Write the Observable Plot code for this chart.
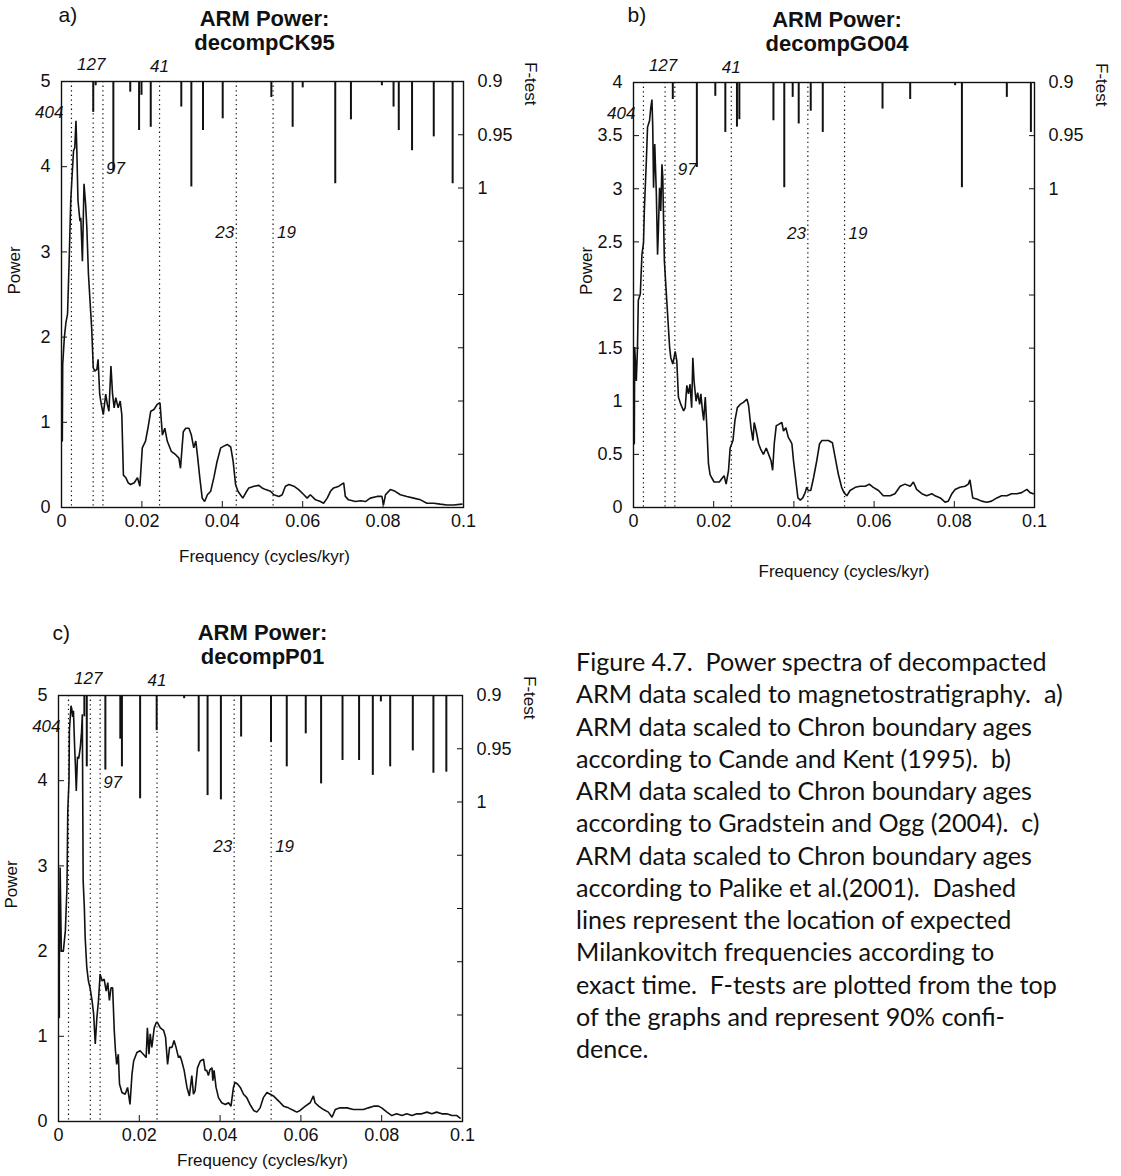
<!DOCTYPE html>
<html><head><meta charset="utf-8">
<script src="https://cdn.jsdelivr.net/npm/d3@7"></script>
<script src="https://cdn.jsdelivr.net/npm/@observablehq/plot@0.6"></script>
<style>
body{margin:0;background:#fff;}
#page{position:relative;width:1121px;height:1176px;overflow:hidden;background:#fff;}
.panel{position:absolute;}
.panel svg{overflow:visible;}
#caption{position:absolute;left:576px;top:645px;font-family:Lato,"Noto Sans",sans-serif;font-size:22px;line-height:32.25px;white-space:pre;color:#111;}
</style></head><body><div id="page"></div>
<script>
// Milankovitch periods (kyr); dotted lines at 1/period
const periods = [404, 127, 97, 41, 23, 19];
const xTicks = [0, 0.02, 0.04, 0.06, 0.08, 0.1];
const fTicks = [0.9, 0.95, 1, 1.05, 1.1, 1.15, 1.2, 1.25, 1.3];
const fDomain = [0.9, 1.3];

// Panel a: decompCK95 power spectrum [frequency, power]
const spectrumCK95 = [
[0.0002,0.78],[0.0003,1.68],[0.0007,1.99],[0.0011,2.17],[0.0015,2.27],[0.0019,2.89],[0.0023,3.60],[0.0027,3.95],
[0.0030,4.19],[0.0033,4.22],[0.0036,4.54],[0.0038,4.22],[0.0041,3.60],[0.0046,3.36],[0.0048,3.40],[0.0052,2.89],
[0.0056,3.80],[0.0060,3.56],[0.0063,3.29],[0.0067,2.74],[0.0071,2.42],[0.0075,2.11],[0.0079,1.64],[0.0083,1.60],
[0.0088,1.62],[0.0091,1.74],[0.0095,1.33],[0.0099,1.21],[0.0104,1.09],[0.0110,1.33],[0.0114,1.21],[0.0118,1.13],
[0.0123,1.66],[0.0127,1.33],[0.0131,1.17],[0.0135,1.29],[0.0141,1.17],[0.0146,1.25],[0.0150,1.09],[0.0154,0.38],
[0.0160,0.35],[0.0166,0.29],[0.0172,0.27],[0.0181,0.29],[0.0189,0.35],[0.0195,0.25],[0.0201,0.70],[0.0209,0.78],
[0.0215,0.93],[0.0222,1.13],[0.0230,1.15],[0.0238,1.21],[0.0245,1.23],[0.0251,0.85],[0.0257,0.93],[0.0263,0.78],
[0.0273,0.66],[0.0284,0.62],[0.0292,0.58],[0.0296,0.46],[0.0303,0.89],[0.0309,0.93],[0.0317,0.93],[0.0323,0.85],
[0.0329,0.70],[0.0334,0.78],[0.0338,0.62],[0.0344,0.35],[0.0350,0.11],[0.0356,0.07],[0.0363,0.15],[0.0371,0.19],
[0.0379,0.35],[0.0387,0.54],[0.0396,0.70],[0.0404,0.72],[0.0412,0.74],[0.0421,0.71],[0.0427,0.54],[0.0433,0.27],
[0.0439,0.19],[0.0445,0.15],[0.0451,0.11],[0.0458,0.17],[0.0466,0.23],[0.0479,0.25],[0.0491,0.26],[0.0499,0.23],
[0.0508,0.21],[0.0520,0.19],[0.0528,0.15],[0.0541,0.13],[0.0549,0.15],[0.0557,0.25],[0.0566,0.27],[0.0578,0.25],
[0.0590,0.21],[0.0603,0.15],[0.0611,0.11],[0.0619,0.15],[0.0632,0.09],[0.0644,0.07],[0.0652,0.05],[0.0661,0.11],
[0.0669,0.19],[0.0677,0.23],[0.0690,0.25],[0.0702,0.29],[0.0706,0.13],[0.0714,0.09],[0.0731,0.07],[0.0744,0.08],
[0.0756,0.07],[0.0768,0.11],[0.0785,0.13],[0.0797,0.13],[0.0801,0.03],[0.0806,0.15],[0.0818,0.21],[0.0830,0.19],
[0.0843,0.15],[0.0859,0.13],[0.0876,0.11],[0.0893,0.09],[0.0909,0.05],[0.0926,0.05],[0.0942,0.04],[0.0959,0.03],
[0.0975,0.03],[0.0996,0.04]
];
// Panel a: F-test [frequency, F]
const ftestCK95 = [
[0.0079,0.929],[0.0085,0.904],[0.0129,0.985],[0.0171,0.910],[0.0193,0.946],[0.0199,0.913],[0.0222,0.943],
[0.0298,0.924],[0.0323,0.999],[0.0352,0.946],[0.0401,0.935],[0.0522,0.915],[0.0575,0.943],[0.0600,0.906],
[0.0681,0.996],[0.0720,0.936],[0.0797,0.904],[0.0826,0.924],[0.0839,0.946],[0.0872,0.965],[0.0926,0.952],
[0.0973,0.996]
];

// Panel b: decompGO04
const spectrumGO04 = [
[0.0002,0.60],[0.0003,1.51],[0.0007,1.19],[0.0010,1.51],[0.0012,1.95],[0.0017,2.01],[0.0021,2.38],[0.0025,2.49],
[0.0027,2.79],[0.0032,3.26],[0.0035,3.58],[0.0040,3.64],[0.0043,3.76],[0.0046,3.84],[0.0048,3.58],[0.0050,3.01],
[0.0053,3.42],[0.0057,2.95],[0.0060,2.38],[0.0062,2.60],[0.0065,3.01],[0.0068,2.79],[0.0071,3.23],[0.0073,3.11],
[0.0075,2.70],[0.0077,2.32],[0.0081,2.07],[0.0085,1.82],[0.0090,1.51],[0.0093,1.41],[0.0098,1.35],[0.0104,1.47],
[0.0108,1.38],[0.0112,1.04],[0.0118,0.97],[0.0125,0.91],[0.0129,0.94],[0.0133,1.15],[0.0137,1.07],[0.0141,1.16],
[0.0145,0.94],[0.0148,1.41],[0.0151,1.19],[0.0156,1.00],[0.0160,1.08],[0.0165,0.97],[0.0168,1.07],[0.0172,0.91],
[0.0175,0.82],[0.0179,1.04],[0.0183,0.75],[0.0187,0.41],[0.0191,0.31],[0.0195,0.28],[0.0201,0.24],[0.0208,0.24],
[0.0214,0.24],[0.0220,0.27],[0.0226,0.30],[0.0231,0.22],[0.0237,0.35],[0.0241,0.56],[0.0248,0.63],[0.0253,0.82],
[0.0259,0.94],[0.0266,0.97],[0.0274,0.99],[0.0283,1.02],[0.0287,0.96],[0.0293,0.75],[0.0298,0.63],[0.0301,0.80],
[0.0306,0.72],[0.0312,0.60],[0.0317,0.55],[0.0324,0.50],[0.0331,0.56],[0.0337,0.50],[0.0343,0.44],[0.0347,0.35],
[0.0351,0.60],[0.0356,0.77],[0.0361,0.78],[0.0370,0.80],[0.0374,0.72],[0.0380,0.75],[0.0386,0.66],[0.0391,0.63],
[0.0395,0.60],[0.0399,0.44],[0.0405,0.25],[0.0410,0.09],[0.0416,0.07],[0.0422,0.09],[0.0428,0.14],[0.0432,0.19],
[0.0436,0.16],[0.0442,0.16],[0.0449,0.28],[0.0457,0.44],[0.0464,0.60],[0.0470,0.63],[0.0478,0.63],[0.0486,0.63],
[0.0496,0.61],[0.0503,0.47],[0.0511,0.31],[0.0519,0.19],[0.0525,0.14],[0.0532,0.11],[0.0540,0.16],[0.0553,0.19],
[0.0565,0.20],[0.0578,0.20],[0.0588,0.22],[0.0598,0.19],[0.0611,0.16],[0.0623,0.11],[0.0640,0.11],[0.0652,0.13],
[0.0665,0.20],[0.0677,0.22],[0.0690,0.20],[0.0698,0.24],[0.0706,0.17],[0.0719,0.13],[0.0731,0.11],[0.0744,0.13],
[0.0752,0.11],[0.0765,0.09],[0.0777,0.05],[0.0785,0.06],[0.0794,0.13],[0.0802,0.17],[0.0814,0.19],[0.0827,0.20],
[0.0835,0.22],[0.0839,0.26],[0.0846,0.09],[0.0856,0.08],[0.0868,0.06],[0.0881,0.05],[0.0893,0.06],[0.0906,0.09],
[0.0918,0.11],[0.0931,0.11],[0.0943,0.13],[0.0956,0.13],[0.0968,0.14],[0.0981,0.17],[0.0989,0.14],[0.0997,0.13]
];
const ftestGO04 = [
[0.0098,0.916],[0.0158,0.980],[0.0204,0.913],[0.0229,0.947],[0.0258,0.942],[0.0264,0.935],[0.0349,0.936],
[0.0376,0.999],[0.0397,0.914],[0.0412,0.939],[0.0442,0.927],[0.0472,0.947],[0.0621,0.925],[0.0690,0.916],
[0.0802,0.903],[0.0819,0.999],[0.0931,0.914],[0.0991,0.947]
];

// Panel c: decompP01
const spectrumP01 = [
[0.0002,1.22],[0.0002,1.77],[0.0004,2.98],[0.0007,2.00],[0.0012,2.00],[0.0017,2.24],[0.0021,2.75],[0.0023,3.65],
[0.0026,4.00],[0.0027,4.59],[0.0031,4.88],[0.0033,4.84],[0.0035,4.75],[0.0037,4.82],[0.0040,4.39],[0.0042,4.16],
[0.0044,3.88],[0.0047,4.28],[0.0050,4.26],[0.0054,4.39],[0.0057,4.57],[0.0059,4.78],[0.0061,2.83],[0.0064,2.51],
[0.0066,2.16],[0.0070,1.81],[0.0074,1.65],[0.0078,1.57],[0.0083,1.42],[0.0087,1.26],[0.0091,0.91],[0.0095,1.22],
[0.0099,1.42],[0.0103,1.73],[0.0108,1.65],[0.0113,1.67],[0.0118,1.53],[0.0122,1.63],[0.0126,1.42],[0.0130,1.57],
[0.0134,1.57],[0.0138,1.07],[0.0141,0.83],[0.0144,0.67],[0.0148,0.79],[0.0151,0.44],[0.0157,0.34],[0.0165,0.32],
[0.0171,0.40],[0.0177,0.20],[0.0182,0.56],[0.0186,0.71],[0.0194,0.81],[0.0202,0.83],[0.0210,0.79],[0.0217,0.75],
[0.0220,1.10],[0.0224,0.79],[0.0227,1.03],[0.0231,0.87],[0.0237,1.10],[0.0242,1.16],[0.0245,1.16],[0.0252,1.10],
[0.0260,1.07],[0.0265,0.99],[0.0270,0.67],[0.0275,0.87],[0.0281,0.87],[0.0286,0.95],[0.0291,0.87],[0.0297,0.75],
[0.0301,0.77],[0.0305,0.71],[0.0311,0.60],[0.0318,0.40],[0.0324,0.30],[0.0330,0.54],[0.0334,0.32],[0.0338,0.36],
[0.0344,0.63],[0.0351,0.71],[0.0359,0.73],[0.0363,0.60],[0.0367,0.60],[0.0371,0.54],[0.0375,0.61],[0.0380,0.63],
[0.0382,0.48],[0.0385,0.60],[0.0390,0.40],[0.0396,0.28],[0.0404,0.22],[0.0413,0.20],[0.0421,0.22],[0.0427,0.18],
[0.0433,0.40],[0.0437,0.46],[0.0443,0.44],[0.0450,0.40],[0.0458,0.32],[0.0466,0.28],[0.0474,0.20],[0.0483,0.13],
[0.0491,0.11],[0.0499,0.16],[0.0507,0.28],[0.0516,0.34],[0.0524,0.32],[0.0532,0.30],[0.0545,0.24],[0.0557,0.18],
[0.0569,0.16],[0.0582,0.13],[0.0590,0.11],[0.0598,0.13],[0.0611,0.18],[0.0623,0.22],[0.0631,0.30],[0.0635,0.22],
[0.0644,0.18],[0.0656,0.14],[0.0668,0.11],[0.0677,0.05],[0.0685,0.14],[0.0697,0.16],[0.0714,0.16],[0.0730,0.14],
[0.0743,0.14],[0.0755,0.14],[0.0767,0.16],[0.0780,0.18],[0.0792,0.18],[0.0800,0.16],[0.0813,0.11],[0.0825,0.07],
[0.0837,0.09],[0.0850,0.07],[0.0862,0.09],[0.0875,0.07],[0.0887,0.09],[0.0899,0.09],[0.0912,0.11],[0.0924,0.09],
[0.0936,0.11],[0.0949,0.09],[0.0961,0.09],[0.0974,0.07],[0.0986,0.07],[0.0994,0.04]
];
const ftestP01 = [
[0.0064,0.920],[0.0070,0.967],[0.0116,0.970],[0.0153,0.941],[0.0157,0.967],[0.0202,0.997],[0.0243,0.933],
[0.0311,0.903],[0.0347,0.953],[0.0369,0.994],[0.0402,0.998],[0.0452,0.939],[0.0526,0.944],[0.0565,0.967],
[0.0612,0.936],[0.0650,0.983],[0.0703,0.961],[0.0744,0.961],[0.0778,0.975],[0.0798,0.906],[0.0821,0.967],
[0.0877,0.952],[0.0928,0.973],[0.0960,0.972]
];

const panelNames = ["a)", "b)", "c)"];
const titleLines = [["ARM Power:", "decompCK95"], ["ARM Power:", "decompGO04"], ["ARM Power:", "decompP01"]];
const yMaxes = [5, 4, 5];
const yTickSets = [[0,1,2,3,4,5], [0,0.5,1,1.5,2,2.5,3,3.5,4], [0,1,2,3,4,5]];
const spectra = [spectrumCK95, spectrumGO04, spectrumP01];
const ftests = [ftestCK95, ftestGO04, ftestP01];

const captionLines = [
"Figure 4.7.  Power spectra of decompacted",
"ARM data scaled to magnetostratigraphy.  a)",
"ARM data scaled to Chron boundary ages",
"according to Cande and Kent (1995).  b)",
"ARM data scaled to Chron boundary ages",
"according to Gradstein and Ogg (2004).  c)",
"ARM data scaled to Chron boundary ages",
"according to Palike et al.(2001).  Dashed",
"lines represent the location of expected",
"Milankovitch frequencies according to",
"exact time.  F-tests are plotted from the top",
"of the graphs and represent 90% confi-",
"dence."
];

// ---- layout (not data) ----
const layouts = [
  {left: 0,   top: 0,   width: 560, height: 590, mL: 61, mR: 97, mT: 81, mB: 83, xTitleDy: 49, xTitleDx: 2,  labelDx: -3, labelDy: -66, titleDx: 2},
  {left: 560, top: 0,   width: 561, height: 590, mL: 73, mR: 87, mT: 82, mB: 83, xTitleDy: 64, xTitleDx: 10, labelDx: -6, labelDy: -67, titleDx: 3},
  {left: 0,   top: 614, width: 560, height: 562, mL: 58, mR: 98, mT: 81, mB: 55, xTitleDy: 39, xTitleDx: 2,  labelDx: -6, labelDy: -62, titleDx: 2}
];
const cycleLabelStyle = [
  {period: 127, dx: -2, dy: -17, anchor: "middle"},
  {period: 41,  dx: 0,  dy: -15, anchor: "middle"},
  {period: 404, dx: -8, dy: 31,  anchor: "end"},
  {period: 97,  dx: 3,  dy: 87,  anchor: "start"},
  {period: 23,  dx: -2, dy: 151, anchor: "end"},
  {period: 19,  dx: 4,  dy: 151, anchor: "start"}
];

const FONT = "'Liberation Sans', Arial, Helvetica, sans-serif";
const page = document.getElementById("page");

function makePanel(i) {
  const L = layouts[i];
  const ymax = yMaxes[i];
  const fScale = d3.scaleLinear(fDomain, [ymax, 0]);
  const curve = spectra[i].map(([f, p]) => ({f, p}));
  const bars = ftests[i].map(([f, F]) => ({f, F}));
  const T = {text: d => d, lineAnchor: "middle"};
  const marks = [
    Plot.ruleX(periods, {x: d => 1 / d, stroke: "#111", strokeWidth: 1.2, strokeDasharray: "1.3,3.3"}),
    Plot.ruleX(bars, {x: "f", y1: ymax, y2: d => fScale(d.F), stroke: "#111", strokeWidth: 2}),
    Plot.line(curve, {x: "f", y: "p", stroke: "#111", strokeWidth: 1.6, strokeLinejoin: "miter"}),
    Plot.frame({stroke: "#111", strokeWidth: 1.4}),
    Plot.axisX(xTicks, {tickSize: -6, tickPadding: 13, label: null, fontSize: 18, tickFormat: d => String(d)}),
    Plot.axisY(yTickSets[i], {anchor: "left", tickSize: -6, tickPadding: 17, label: null, fontSize: 18, tickFormat: d => String(d)}),
    Plot.axisY(fTicks.map(fScale), {anchor: "right", tickSize: -6, tickPadding: 20, label: null, fontSize: 18,
      tickFormat: v => { const f = +fScale.invert(v).toFixed(3); return f <= 1 ? String(f) : ""; }}),
    Plot.text([panelNames[i]], {...T, frameAnchor: "top-left", dx: L.labelDx, dy: L.labelDy, textAnchor: "start", fontSize: 21}),
    Plot.text([titleLines[i][0]], {...T, frameAnchor: "top", dx: L.titleDx, dy: -63, fontSize: 22, fontWeight: "bold"}),
    Plot.text([titleLines[i][1]], {...T, frameAnchor: "top", dx: L.titleDx, dy: -39, fontSize: 22, fontWeight: "bold"}),
    Plot.text(["Power"], {...T, frameAnchor: "left", dx: -47, rotate: -90, fontSize: 17}),
    Plot.text(["F-test"], {...T, frameAnchor: "top-right", dx: 67, dy: 24, rotate: 90, fontSize: 17}),
    Plot.text(["Frequency (cycles/kyr)"], {...T, frameAnchor: "bottom", dx: L.xTitleDx, dy: L.xTitleDy, fontSize: 17})
  ];
  for (const s of cycleLabelStyle) {
    marks.push(Plot.text([s.period], {x: d => 1 / d, text: d => String(d), lineAnchor: "middle", frameAnchor: "top", dx: s.dx, dy: s.dy,
      textAnchor: s.anchor, fontStyle: "italic", fontSize: 17}));
  }
  const svg = Plot.plot({
    width: L.width, height: L.height,
    marginLeft: L.mL, marginRight: L.mR, marginTop: L.mT, marginBottom: L.mB,
    x: {domain: [0, 0.1]},
    y: {domain: [0, ymax]},
    style: {fontFamily: FONT, color: "#111", background: "transparent", overflow: "visible"},
    marks
  });
  const div = document.createElement("div");
  div.className = "panel";
  div.style.left = L.left + "px";
  div.style.top = L.top + "px";
  div.appendChild(svg);
  page.appendChild(div);
}
[0, 1, 2].forEach(makePanel);

const cap = document.createElement("div");
cap.id = "caption";
cap.textContent = captionLines.join("\n");
page.appendChild(cap);
// fit caption font size so the second line spans ~487px
(function fit() {
  const ctx = document.createElement("canvas").getContext("2d");
  ctx.font = "22px Lato";
  const w = ctx.measureText(captionLines[1]).width;
  const size = Math.max(16, Math.min(28, 22 * 487 / w));
  cap.style.fontSize = size.toFixed(2) + "px";
})();
</script></body></html>
